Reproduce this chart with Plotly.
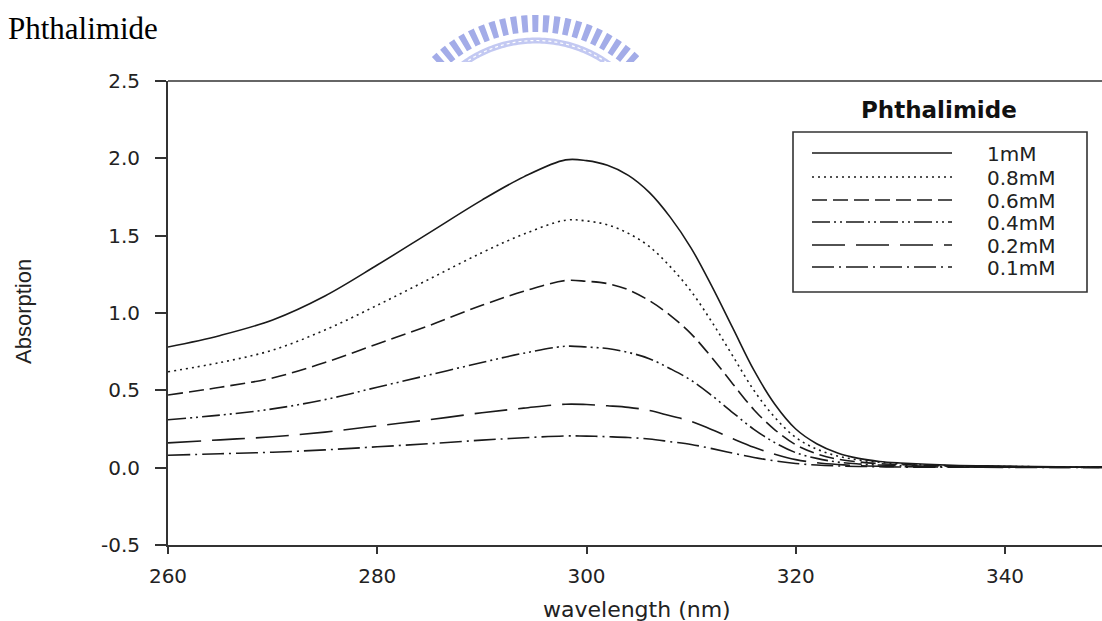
import numpy as np
import plotly.graph_objects as go

# ---------------- data ----------------
wavelength = [260, 265, 270, 275, 280, 285, 290, 294, 298, 300, 302, 304, 306, 308, 310,
              312, 314, 316, 318, 320, 322, 324, 326, 328, 330, 335, 340, 345, 350]

abs_1mM = [0.78, 0.855, 0.955, 1.11, 1.31, 1.52, 1.73, 1.88, 1.99, 1.985, 1.955, 1.89, 1.78, 1.62, 1.42,
           1.17, 0.90, 0.63, 0.41, 0.25, 0.155, 0.095, 0.06, 0.04, 0.03, 0.015, 0.01, 0.005, 0.005]
abs_08mM = [0.62, 0.68, 0.76, 0.89, 1.05, 1.22, 1.39, 1.51, 1.60, 1.595, 1.57, 1.515, 1.43, 1.30, 1.14,
            0.94, 0.72, 0.50, 0.325, 0.195, 0.12, 0.075, 0.05, 0.035, 0.025, 0.012, 0.008, 0.005, 0.004]
abs_06mM = [0.47, 0.52, 0.58, 0.68, 0.80, 0.92, 1.05, 1.14, 1.21, 1.205, 1.19, 1.15, 1.08, 0.985, 0.865,
            0.71, 0.54, 0.375, 0.245, 0.148, 0.09, 0.055, 0.037, 0.026, 0.02, 0.01, 0.007, 0.004, 0.003]
abs_04mM = [0.31, 0.34, 0.38, 0.44, 0.52, 0.60, 0.68, 0.74, 0.785, 0.78, 0.77, 0.745, 0.705, 0.64, 0.565,
            0.465, 0.355, 0.248, 0.162, 0.097, 0.06, 0.036, 0.024, 0.017, 0.013, 0.007, 0.005, 0.003, 0.002]
abs_02mM = [0.16, 0.18, 0.20, 0.23, 0.27, 0.31, 0.355, 0.385, 0.41, 0.408, 0.40, 0.39, 0.37, 0.335, 0.30,
            0.245, 0.187, 0.132, 0.087, 0.052, 0.032, 0.02, 0.013, 0.009, 0.007, 0.004, 0.003, 0.002, 0.001]
abs_01mM = [0.08, 0.09, 0.10, 0.115, 0.135, 0.155, 0.178, 0.193, 0.205, 0.204, 0.20, 0.195, 0.185, 0.168, 0.15,
            0.123, 0.094, 0.066, 0.044, 0.027, 0.017, 0.011, 0.008, 0.006, 0.004, 0.003, 0.002, 0.001, 0.001]

series_names = ["1mM", "0.8mM", "0.6mM", "0.4mM", "0.2mM", "0.1mM"]
series_values = [abs_1mM, abs_08mM, abs_06mM, abs_04mM, abs_02mM, abs_01mM]
series_dash = ["solid", "2px,4px", "15px,6px", "18px,4px,2px,4px,2px,4px", "33px,11px", "22px,5px,2px,5px"]

x_tickvals = [260, 280, 300, 320, 340]
x_ticktext = ["260", "280", "300", "320", "340"]
y_tickvals = [-0.5, 0.0, 0.5, 1.0, 1.5, 2.0, 2.5]
y_ticktext = ["-0.5", "0.0", "0.5", "1.0", "1.5", "2.0", "2.5"]

# ---------------- layout geometry ----------------
W, H = 1102, 621
L, R, T, B = 168, 0, 81, 76
PW, PH = W - L - R, H - T - B


def px(x):
    return (x - L) / PW


def py(y):
    return (H - B - y) / PH


INK = "#1a1a1a"
AX = "#333333"

fig = go.Figure()
for name, vals, dash in zip(series_names, series_values, series_dash):
    fig.add_trace(go.Scatter(
        x=wavelength, y=vals, mode="lines", name=name, showlegend=False,
        line=dict(color=INK, width=1.6, dash=dash, shape="spline", smoothing=1.0),
    ))

shapes = []
annotations = []

# watermark (faint logo arc cut off at the top)
cx, cy = 536, 165


def arc_path(r, a0=-44, a1=44, n=80):
    ang = np.radians(np.linspace(a0, a1, n))
    xs = cx + r * np.sin(ang)
    ys = cy - r * np.cos(ang)
    pts = [f"{px(a):.5f},{py(b):.5f}" for a, b in zip(xs, ys)]
    return "M " + " L ".join(pts)


shapes.append(dict(type="path", xref="paper", yref="paper", path=arc_path(141.5),
                   line=dict(color="#a3ace8", width=17, dash="6px,4.5px"), layer="above"))
shapes.append(dict(type="path", xref="paper", yref="paper", path=arc_path(124.5),
                   line=dict(color="#c3c9f2", width=6), layer="above"))
shapes.append(dict(type="path", xref="paper", yref="paper", path=arc_path(124.5),
                   line=dict(color="#ffffff", width=1.2, dash="3px,3px"), layer="above"))
shapes.append(dict(type="rect", xref="paper", yref="paper",
                   x0=px(380), x1=px(720), y0=py(80), y1=py(62),
                   line=dict(width=0), fillcolor="white", layer="above"))

# top frame line
shapes.append(dict(type="line", xref="paper", yref="paper", x0=0, x1=1, y0=1, y1=1,
                   line=dict(color=AX, width=1.6), layer="above"))

# legend box
shapes.append(dict(type="rect", xref="paper", yref="paper",
                   x0=px(793), x1=px(1087), y0=py(292), y1=py(132),
                   line=dict(color=AX, width=1.6), fillcolor="rgba(0,0,0,0)"))
legend_rows = [153, 177, 200, 222, 245, 267]
for name, dash, yy in zip(series_names, series_dash, legend_rows):
    shapes.append(dict(type="line", xref="paper", yref="paper",
                       x0=px(812), x1=px(952), y0=py(yy), y1=py(yy),
                       line=dict(color=INK, width=1.5, dash=dash)))
    annotations.append(dict(text=name, xref="paper", yref="paper", x=px(985), y=py(yy + 1),
                            xanchor="left", yanchor="middle", showarrow=False,
                            font=dict(family="DejaVu Sans", size=20, color="#222")))

annotations.append(dict(text="<b>Phthalimide</b>", xref="paper", yref="paper",
                        x=px(939), y=py(110), xanchor="center", yanchor="middle", showarrow=False,
                        font=dict(family="DejaVu Sans", size=23, color="#111")))

# page title
annotations.append(dict(text="Phthalimide", xref="paper", yref="paper",
                        x=px(6), y=py(28.5), xanchor="left", yanchor="middle", showarrow=False,
                        font=dict(family="Liberation Serif", size=31, color="#000")))

# axis titles
annotations.append(dict(text="wavelength (nm)", xref="paper", yref="paper",
                        x=px(637), y=py(609), xanchor="center", yanchor="middle", showarrow=False,
                        font=dict(family="DejaVu Sans", size=22, color="#222")))
annotations.append(dict(text="Absorption", xref="paper", yref="paper", textangle=-90,
                        x=px(23), y=py(312), xanchor="center", yanchor="middle", showarrow=False,
                        font=dict(family="Liberation Sans", size=22, color="#222")))

fig.update_layout(
    width=W, height=H,
    margin=dict(l=L, r=R, t=T, b=B, pad=0),
    paper_bgcolor="white", plot_bgcolor="white",
    shapes=shapes, annotations=annotations,
    showlegend=False,
    xaxis=dict(range=[260, 260 + PW / ((1005 - 168) / 80)], tickvals=x_tickvals, ticktext=x_ticktext,
               showgrid=False, zeroline=False, showline=True, linecolor=AX, linewidth=1.6,
               ticks="outside", ticklen=7, tickwidth=1.6, tickcolor=AX, ticklabelstandoff=5,
               tickfont=dict(family="DejaVu Sans", size=20, color="#222")),
    yaxis=dict(range=[-0.5, 2.5], tickvals=y_tickvals, ticktext=y_ticktext,
               showgrid=False, zeroline=False, showline=True, linecolor=AX, linewidth=1.8,
               ticks="outside", ticklen=11, tickwidth=1.6, tickcolor=AX, ticklabelstandoff=11,
               tickfont=dict(family="DejaVu Sans", size=20, color="#222")),
)

fig.write_html("out.html")
